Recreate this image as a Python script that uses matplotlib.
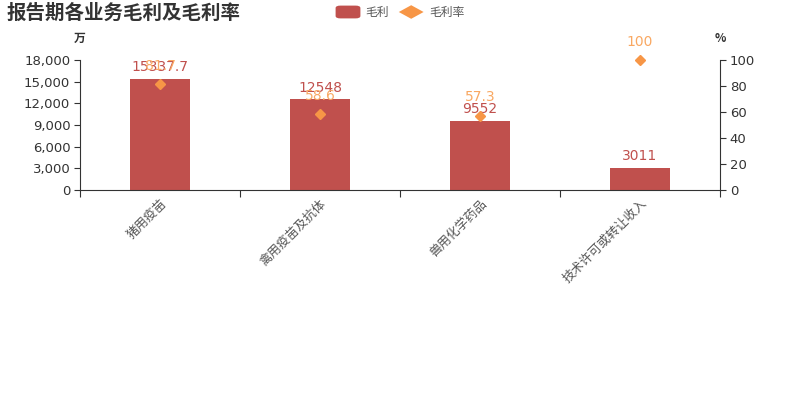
import matplotlib
matplotlib.use("Agg")
import matplotlib.pyplot as plt
from matplotlib.patches import FancyBboxPatch, Polygon
import numpy as np

plt.rcParams['font.family'] = ['Noto Sans CJK SC', 'DejaVu Sans']

categories = ["猪用疫苗", "禽用疫苗及抗体", "兽用化学药品", "技术许可或转让收入"]
gross_profit = [15337.7, 12548, 9552, 3011]
gross_margin = [81.7, 58.6, 57.3, 100]
left_ticks = [0, 3000, 6000, 9000, 12000, 15000, 18000]
right_ticks = [0, 20, 40, 60, 80, 100]

bar_color = "#c0504d"
dia_color = "#f79646"
dia_label_color = "#f9a862"
axis_color = "#333333"

fig = plt.figure(figsize=(8, 4), dpi=100)
ax = fig.add_axes([0.1, 0.525, 0.8, 0.325])
ax2 = ax.twinx()

x = np.arange(len(categories))
ax.bar(x, gross_profit, width=0.375, color=bar_color, zorder=2)
ax.set_xlim(-0.5, len(categories) - 0.5)
ax.set_ylim(0, 18000)
ax.set_yticks(left_ticks)
ax.set_yticklabels([f"{v:,}" for v in left_ticks], family=["DejaVu Sans"])
ax.set_xticks(np.arange(len(categories) + 1) - 0.5, minor=False)
ax.set_xticklabels([])
ax.set_xticks(x, minor=True)
ax.set_xticklabels(categories, minor=True, rotation=45, ha="right", va="top",
                   rotation_mode="anchor", fontsize=9, color="#555555")
ax.tick_params(axis="x", which="minor", length=0, pad=5)
ax.tick_params(axis="x", which="major", length=5, color=axis_color, direction="out")
ax.tick_params(axis="y", length=4, color=axis_color, labelsize=9.5, labelcolor=axis_color, pad=3)

for s in ["top", "right"]:
    ax.spines[s].set_visible(False)
ax.spines["left"].set_color(axis_color)
ax.spines["bottom"].set_color(axis_color)

ax2.set_ylim(0, 100)
ax2.set_yticks(right_ticks)
ax2.set_yticklabels([str(v) for v in right_ticks], family=["DejaVu Sans"])
ax2.tick_params(axis="y", length=4, color=axis_color, labelsize=9.5, labelcolor=axis_color, pad=3)
for s in ["top", "left", "bottom"]:
    ax2.spines[s].set_visible(False)
ax2.spines["right"].set_color(axis_color)
ax2.plot(x, gross_margin, linestyle="none", marker="D", markersize=5.5,
         color=dia_color, zorder=3, clip_on=False)

for xi, v in zip(x, gross_profit):
    ax.annotate(f"{v:g}", (xi, v), xytext=(0, 3.5), textcoords="offset points",
                ha="center", va="bottom", fontsize=10, color=bar_color,
                family=["DejaVu Sans"])
for xi, v in zip(x, gross_margin):
    ax2.annotate(f"{v:g}", (xi, v), xytext=(0, 8), textcoords="offset points",
                 ha="center", va="bottom", fontsize=10, color=dia_label_color,
                 family=["DejaVu Sans"], annotation_clip=False)

fig.text(0.1, 0.905, "万", ha="center", va="center", fontsize=8.5, color=axis_color,
         fontweight="bold")
fig.text(0.9, 0.905, "%", ha="center", va="center", fontsize=8.5, color=axis_color,
         fontweight="bold")

fig.text(0.008, 0.968, "报告期各业务毛利及毛利率", ha="left", va="center",
         fontsize=14, fontweight="bold", color="#333333")

# legend (manual)
ly = 0.970
rect = FancyBboxPatch((0.4195, ly - 0.016), 0.031, 0.032,
                      boxstyle="round,pad=0,rounding_size=0.006",
                      transform=fig.transFigure, facecolor=bar_color, edgecolor="none")
fig.patches.append(rect)
fig.text(0.456, ly, "毛利", ha="left", va="center", fontsize=8.5, color="#555555")
cx = 0.514
dia = Polygon([[cx - 0.0155, ly], [cx, ly + 0.017], [cx + 0.0155, ly], [cx, ly - 0.017]],
              closed=True, transform=fig.transFigure, facecolor=dia_color, edgecolor="none")
fig.patches.append(dia)
fig.text(0.537, ly, "毛利率", ha="left", va="center", fontsize=8.5, color="#555555")

fig.savefig("out.png", dpi=100)
